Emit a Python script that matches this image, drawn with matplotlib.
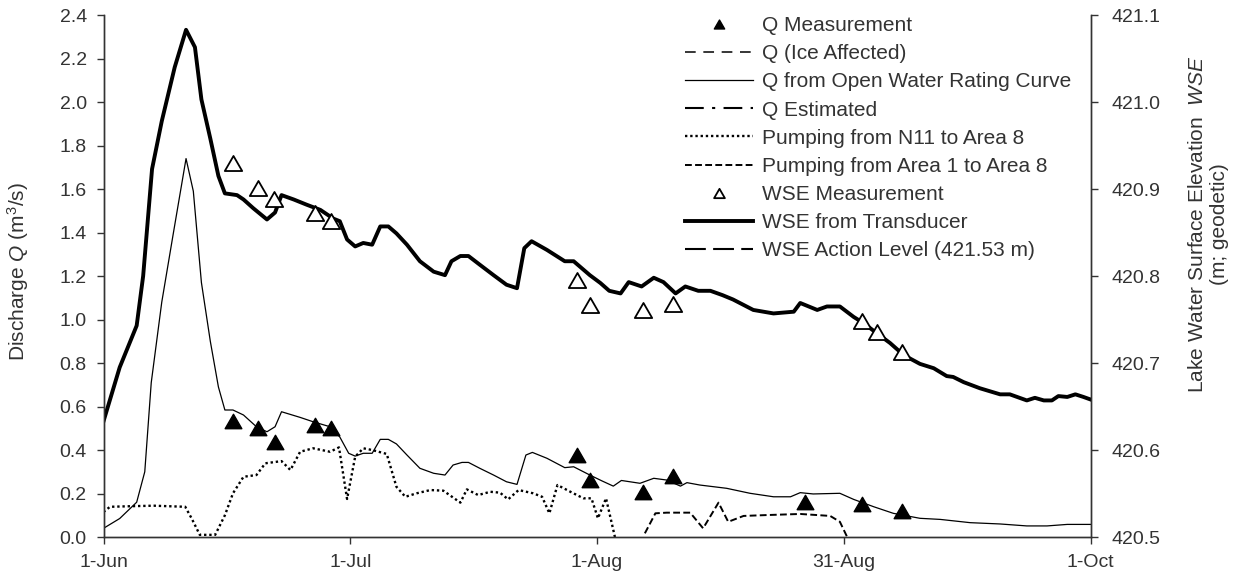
import matplotlib
matplotlib.use('Agg')
import matplotlib.pyplot as plt
from matplotlib.path import Path

#%% FONTS
plt.rcParams['font.family'] = ['Liberation Sans', 'DejaVu Sans']
plt.rcParams['mathtext.fontset'] = 'custom'
plt.rcParams['mathtext.rm'] = 'Liberation Sans'
plt.rcParams['mathtext.it'] = 'Liberation Sans:italic'
TXT = '#333333'

#%% DATA (x = days after 1-Jun)
wse_day = [0, 2.0, 4.1, 4.9, 6.0, 7.2, 8.8, 10.2, 11.3, 12.1, 13.2, 14.2, 15.0, 16.5, 17.3,
           18.5, 20.2, 21.2, 22.0, 23.5, 25.1, 26.8, 28.4, 29.2, 30.1, 31.1, 32.1, 33.2,
           34.2, 35.2, 36.2, 37.5, 39.1, 40.8, 42.2, 43.0, 44.1, 45.1, 46.5, 48.2, 49.8,
           51.1, 52.0, 52.9, 54.8, 57.0, 58.1, 60.1, 61.4, 62.5, 63.9, 64.9, 66.5, 68.0,
           69.2, 70.7, 71.9, 73.5, 75.0, 76.5, 77.8, 80.3, 82.8, 85.3, 86.1, 88.2, 89.4,
           91.0, 92.7, 93.9, 95.6, 97.2, 98.9, 100.9, 102.6, 104.2, 105.0, 106.3, 108.3,
           110.8, 112.0, 114.1, 115.1, 116.2, 117.2, 118.0, 119.1, 120.1, 121.1, 122]
wse_level = [420.633, 420.695, 420.743, 420.800, 420.923, 420.978, 421.040, 421.083, 421.063,
             421.003, 420.958, 420.915, 420.895, 420.893, 420.888, 420.878, 420.865, 420.873,
             420.893, 420.888, 420.882, 420.876, 420.866, 420.863, 420.842, 420.834, 420.838,
             420.836, 420.857, 420.857, 420.849, 420.836, 420.817, 420.805, 420.801, 420.817,
             420.823, 420.823, 420.813, 420.801, 420.790, 420.786, 420.832, 420.840, 420.830,
             420.817, 420.817, 420.801, 420.792, 420.783, 420.780, 420.793, 420.788, 420.798,
             420.793, 420.780, 420.788, 420.783, 420.783, 420.778, 420.773, 420.761, 420.757,
             420.759, 420.769, 420.761, 420.765, 420.765, 420.753, 420.746, 420.734, 420.723,
             420.709, 420.699, 420.694, 420.685, 420.684, 420.678, 420.671, 420.664, 420.664,
             420.657, 420.660, 420.657, 420.657, 420.662, 420.661, 420.664, 420.661, 420.658]

q_day = [0, 2.0, 4.1, 5.1, 5.9, 7.2, 8.6, 10.2, 11.1, 12.1, 13.2, 14.2, 15.0, 16.0, 17.3,
         18.9, 20.2, 21.2, 22.0, 24.3, 25.9, 28.0, 29.2, 30.3, 31.1, 32.1, 33.2, 34.2, 35.2,
         36.2, 37.5, 39.1, 40.8, 42.2, 43.2, 44.3, 45.1, 46.5, 48.2, 49.8, 51.1, 52.2, 53.0,
         54.8, 57.0, 58.1, 60.1, 61.6, 63.0, 64.0, 66.3, 68.0, 69.6, 71.3, 72.1, 73.7, 77.0,
         79.9, 82.8, 84.9, 86.1, 87.7, 91.0, 92.7, 95.2, 97.6, 100.9, 103.4, 107.1, 110.8,
         114.1, 116.6, 119.1, 122]
q_rating = [0.04, 0.085, 0.16, 0.30, 0.71, 1.08, 1.39, 1.74, 1.59, 1.17, 0.90, 0.69, 0.584,
            0.584, 0.561, 0.507, 0.484, 0.507, 0.576, 0.550, 0.530, 0.507, 0.46, 0.385, 0.372,
            0.385, 0.385, 0.449, 0.449, 0.428, 0.377, 0.316, 0.293, 0.285, 0.331, 0.343, 0.343,
            0.316, 0.285, 0.254, 0.242, 0.377, 0.389, 0.362, 0.319, 0.323, 0.285, 0.258, 0.234,
            0.260, 0.247, 0.270, 0.262, 0.234, 0.250, 0.239, 0.224, 0.201, 0.185, 0.185, 0.204,
            0.198, 0.201, 0.173, 0.139, 0.109, 0.086, 0.081, 0.066, 0.060, 0.051, 0.051, 0.058,
            0.058]

n11_day = [0, 0.8, 3.7, 6.2, 10.1, 10.9, 11.9, 13.8, 15.0, 16.0, 17.3, 18.9, 20.0, 22.0, 23.1,
           24.3, 25.9, 28.0, 29.1, 30.1, 31.1, 32.1, 33.2, 35.0, 36.2, 37.3, 38.7, 40.4, 42.0,
           44.1, 44.9, 46.3, 47.8, 49.0, 50.0, 51.3, 53.1, 54.2, 55.1, 56.1, 57.7, 59.3, 60.3,
           61.1, 62.1, 63.2]
n11_pump = [0.115, 0.139, 0.142, 0.144, 0.139, 0.085, 0.01, 0.01, 0.10, 0.201, 0.277, 0.285,
            0.339, 0.349, 0.308, 0.392, 0.408, 0.392, 0.412, 0.175, 0.369, 0.408, 0.400, 0.382,
            0.231, 0.185, 0.201, 0.216, 0.213, 0.158, 0.219, 0.193, 0.208, 0.204, 0.173, 0.216,
            0.201, 0.185, 0.109, 0.239, 0.208, 0.178, 0.178, 0.086, 0.178, 0.0]

a1_day = [66.9, 68.2, 69.6, 72.5, 74.1, 76.0, 77.2, 79.1, 82.0, 86.1, 89.8, 91.0, 91.9]
a1_pump = [0.017, 0.109, 0.112, 0.112, 0.040, 0.158, 0.070, 0.097, 0.101, 0.106, 0.097, 0.070, 0.0]

qm_day = [16.0, 19.1, 21.2, 26.1, 28.1, 58.5, 60.1, 66.7, 70.4, 86.7, 93.7, 98.7]
qm_val = [0.535, 0.500, 0.438, 0.515, 0.500, 0.377, 0.262, 0.208, 0.280, 0.162, 0.152, 0.121]

wm_day = [16.0, 19.1, 21.1, 26.1, 28.1, 58.5, 60.1, 66.7, 70.4, 93.7, 95.6, 98.7]
wm_val = [420.930, 420.901, 420.889, 420.873, 420.863, 420.795, 420.767, 420.761, 420.768,
          420.748, 420.736, 420.713]

ice_day, ice_q = [], []
est_day, est_q = [], []
action_level = 421.53

xtick_pos = [0, 30.5, 61, 91.5, 122]
xtick_lab = ['1-Jun', '1-Jul', '1-Aug', '31-Aug', '1-Oct']

#%% PLOT
tri = Path([(-1, -0.866), (1, -0.866), (0, 0.866), (-1, -0.866)], closed=True)

fig = plt.figure(figsize=(12.44, 5.78), dpi=100)
ax = fig.add_axes([0.0832, 0.0709, 0.7936, 0.9031])
ax2 = ax.twinx()

l_qm, = ax.plot(qm_day, qm_val, ls='none', marker=tri, ms=12, color='k', label='Q Measurement', zorder=5)
l_ice, = ax.plot(ice_day, ice_q, color='k', lw=1.1, ls=(0, (7, 5)), label='Q (Ice Affected)')
l_rc, = ax.plot(q_day, q_rating, color='k', lw=0.9, label='Q from Open Water Rating Curve')
l_est, = ax.plot(est_day, est_q, color='k', lw=1.5, ls=(0, (9, 4, 1.5, 4)), label='Q Estimated')
l_n11, = ax.plot(n11_day, n11_pump, color='k', lw=1.7, ls=(0, (1, 1.2)), label='Pumping from N11 to Area 8')
l_a1, = ax.plot(a1_day, a1_pump, color='k', lw=1.4, ls=(0, (3.5, 1.7)), label='Pumping from Area 1 to Area 8')

l_wm, = ax2.plot(wm_day, wm_val, ls='none', marker=tri, ms=12.5, mfc='white', mec='k', mew=1.3,
                 label='WSE Measurement', zorder=5)
l_wse, = ax2.plot(wse_day, wse_level, color='k', lw=2.8, label='WSE from Transducer')
l_act = ax2.axhline(action_level, color='k', lw=1.5, ls=(0, (10, 3.5)), label='WSE Action Level (421.53 m)')

ax.set_xlim(0, 122)
ax.set_ylim(0, 2.4)
ax2.set_ylim(420.5, 421.1)
ax.set_xticks(xtick_pos)
ax.set_xticklabels(xtick_lab)
ax.set_yticks([i * 0.2 for i in range(13)])
ax.set_yticklabels(['%.1f' % (i * 0.2) for i in range(13)])
ax2.set_yticks([420.5 + i * 0.1 for i in range(7)])
ax2.set_yticklabels(['%.1f' % (420.5 + i * 0.1) for i in range(7)])

for a in (ax, ax2):
    a.spines['top'].set_visible(False)
    for s in a.spines.values():
        s.set_color('#333333')
        s.set_linewidth(1.0)
ax.tick_params(axis='both', direction='out', length=5, width=1, colors='#333333',
               labelsize=14, labelcolor=TXT, pad=7)
ax2.tick_params(axis='y', direction='out', length=5, width=1, colors='#333333',
                labelsize=14, labelcolor=TXT, pad=10)

ax.set_ylabel('Discharge $\\mathit{Q}$ (m$^3$/s)', fontsize=15, color=TXT)
ax.yaxis.set_label_coords(-0.0735, 0.508)
ax2.set_ylabel('Lake Water Surface Elevation  $\\mathit{WSE}$\n(m; geodetic)', fontsize=15,
               color=TXT, linespacing=1.2)
ax2.yaxis.set_label_coords(1.099, 0.6)

handles = [l_qm, l_ice, l_rc, l_est, l_n11, l_a1, l_wm, l_wse, l_act]
leg = ax2.legend(handles=handles, loc='upper left', bbox_to_anchor=(685 / 1244, 1 - 16 / 578),
                 bbox_transform=fig.transFigure, frameon=False, fontsize=15, handlelength=3.27,
                 handletextpad=0.43, labelspacing=0.44, borderpad=0, borderaxespad=0,
                 markerscale=0.62)
for t in leg.get_texts():
    t.set_color(TXT)

fig.savefig('out.png', dpi=100)
